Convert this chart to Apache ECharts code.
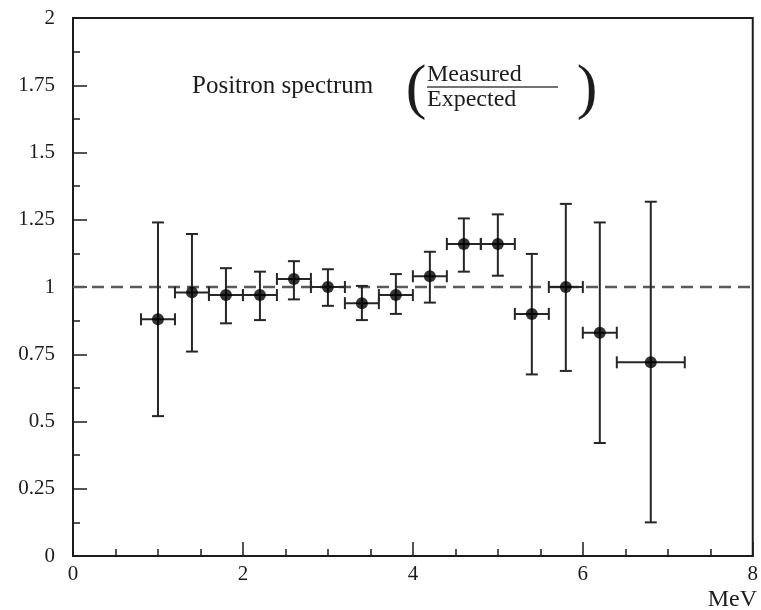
<!DOCTYPE html>
<html>
<head>
<meta charset="utf-8">
<script src="https://cdn.jsdelivr.net/npm/echarts@6/dist/echarts.min.js"></script>
<style>
  html, body { margin: 0; padding: 0; background: #fff; }
  #chart { width: 761px; height: 610px; }
</style>
</head>
<body>
<div id="chart"></div>
<script>
// Positron energy bins (MeV): bin centres and half-widths
const energy    = [1.0, 1.4, 1.8, 2.2, 2.6, 3.0, 3.4, 3.8, 4.2, 4.6, 5.0, 5.4, 5.8, 6.2, 6.8];
const halfWidth = [0.2, 0.2, 0.2, 0.2, 0.2, 0.2, 0.2, 0.2, 0.2, 0.2, 0.2, 0.2, 0.2, 0.2, 0.4];
// Measured / expected ratio with lower and upper error limits
const ratio     = [0.88, 0.98, 0.97, 0.97, 1.03, 1.00, 0.94, 0.97, 1.04, 1.16, 1.16, 0.90, 1.00, 0.83, 0.72];
const ratioLow  = [0.52, 0.76, 0.865, 0.877, 0.954, 0.93, 0.877, 0.90, 0.942, 1.057, 1.042, 0.675, 0.688, 0.42, 0.125];
const ratioHigh = [1.24, 1.197, 1.07, 1.057, 1.096, 1.066, 1.004, 1.048, 1.131, 1.255, 1.27, 1.123, 1.309, 1.24, 1.317];
// Reference level (measured = expected)
const referenceLine = [[0, 1], [8, 1]];

const FONT = "'Liberation Serif', 'Times New Roman', serif";
const INK = '#1c1c1c';

const points = energy.map((e, i) => [e, ratio[i], ratioLow[i], ratioHigh[i], halfWidth[i]]);

function renderErrorBars(params, api) {
  const x = api.value(0), y = api.value(1);
  const lo = api.value(2), hi = api.value(3), hw = api.value(4);
  const c = api.coord([x, y]);
  const pLo = api.coord([x, lo]);
  const pHi = api.coord([x, hi]);
  const pL = api.coord([x - hw, y]);
  const pR = api.coord([x + hw, y]);
  const cap = 6;
  const style = { stroke: '#262626', lineWidth: 2, fill: null };
  const line = (x1, y1, x2, y2) => ({ type: 'line', shape: { x1, y1, x2, y2 }, style });
  return {
    type: 'group',
    children: [
      line(c[0], pLo[1], c[0], pHi[1]),
      line(c[0] - cap, pLo[1], c[0] + cap, pLo[1]),
      line(c[0] - cap, pHi[1], c[0] + cap, pHi[1]),
      line(pL[0], c[1], pR[0], c[1]),
      line(pL[0], c[1] - cap, pL[0], c[1] + cap),
      line(pR[0], c[1] - cap, pR[0], c[1] + cap)
    ]
  };
}

const chart = echarts.init(document.getElementById('chart'), null, { renderer: 'canvas' });
chart.setOption({
  animation: false,
  backgroundColor: '#fff',
  grid: {
    left: 73, right: 6, top: 18, bottom: 54,
    show: true, borderColor: INK, borderWidth: 2, backgroundColor: 'transparent'
  },
  xAxis: {
    type: 'value', min: 0, max: 8, interval: 2,
    axisLine: { show: true, onZero: false, lineStyle: { color: INK, width: 2 } },
    axisTick: { show: true, inside: true, length: 14, lineStyle: { color: INK, width: 1.5 } },
    minorTick: { show: true, splitNumber: 4, length: 7, lineStyle: { color: INK, width: 1.5 } },
    axisLabel: { color: INK, fontFamily: FONT, fontSize: 21, margin: 8 },
    splitLine: { show: false }
  },
  yAxis: {
    type: 'value', min: 0, max: 2, interval: 0.25,
    axisLine: { show: true, onZero: false, lineStyle: { color: INK, width: 2 } },
    axisTick: { show: true, inside: true, length: 14, lineStyle: { color: INK, width: 1.5 } },
    minorTick: { show: true, splitNumber: 2, length: 7, lineStyle: { color: INK, width: 1.5 } },
    axisLabel: { color: INK, fontFamily: FONT, fontSize: 21, margin: 18 },
    splitLine: { show: false }
  },
  graphic: [
    { type: 'text', left: 192, top: 74, z: 10,
      style: { text: 'Positron spectrum', font: '25px ' + FONT, fill: INK } },
    { type: 'text', x: 416, y: 91, z: 10,
      style: { text: '(', font: '62px ' + FONT, fill: INK, align: 'center', verticalAlign: 'middle' } },
    { type: 'text', x: 427, y: 75, z: 10,
      style: { text: 'Measured', font: '24px ' + FONT, fill: INK, align: 'left', verticalAlign: 'middle' } },
    { type: 'line', z: 10, shape: { x1: 427, y1: 87, x2: 558, y2: 87 },
      style: { stroke: '#444', lineWidth: 1.5 } },
    { type: 'text', x: 427, y: 100, z: 10,
      style: { text: 'Expected', font: '24px ' + FONT, fill: INK, align: 'left', verticalAlign: 'middle' } },
    { type: 'text', x: 587, y: 91, z: 10,
      style: { text: ')', font: '62px ' + FONT, fill: INK, align: 'center', verticalAlign: 'middle' } },
    { type: 'text', right: 4, top: 588, z: 10,
      style: { text: 'MeV', font: '24px ' + FONT, fill: INK } }
  ],
  series: [
    {
      type: 'line', data: referenceLine, symbol: 'none', z: 1, silent: true,
      lineStyle: { color: '#5a5a5a', width: 2.5, type: [12, 7] }
    },
    {
      type: 'custom', data: points, renderItem: renderErrorBars, z: 2,
      encode: { x: 0, y: 1 }
    },
    {
      type: 'scatter', data: points.map(p => [p[0], p[1]]), z: 3,
      symbol: 'circle', symbolSize: 12, itemStyle: { color: '#000' }
    }
  ]
});
</script>
</body>
</html>
